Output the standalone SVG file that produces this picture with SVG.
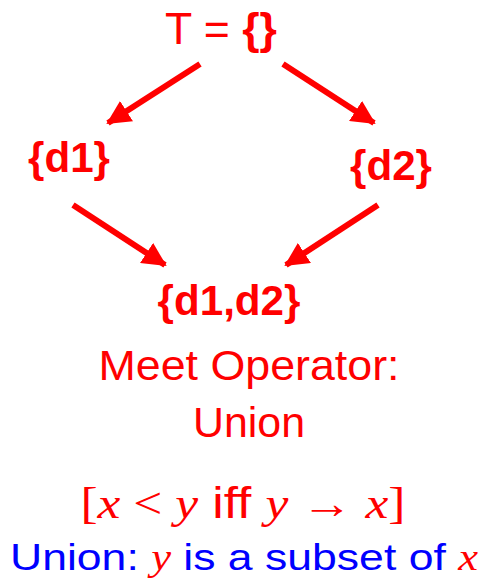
<svg xmlns="http://www.w3.org/2000/svg" width="494" height="587" viewBox="0 0 494 587">
<style>
.r{fill:#ff0000;font-family:"Liberation Sans",Arial,sans-serif}
.b{font-weight:bold}
.m{font-family:"Liberation Serif","DejaVu Serif",serif;font-style:italic}
.ms{font-family:"Liberation Serif","DejaVu Serif",serif}
.blue{fill:#0000ff;font-family:"Liberation Sans",Arial,sans-serif}
.edge{stroke:#ff0000;stroke-width:6;fill:none;marker-end:url(#ah)}
</style>
<defs>
<marker id="ah" markerUnits="userSpaceOnUse" markerWidth="26" markerHeight="24" refX="22" refY="12" orient="auto">
<path d="M0,0 L24,12 L0,24 Z" fill="#ff0000"/>
</marker>
</defs>
<rect width="494" height="587" fill="#ffffff"/>
<g id="connectors">
<line class="edge" x1="200" y1="64" x2="108" y2="123"/>
<line class="edge" x1="283" y1="64" x2="374" y2="123"/>
<line class="edge" x1="73" y1="205" x2="165" y2="265"/>
<line class="edge" x1="378" y1="205" x2="286" y2="265"/>
</g>
<g id="top">
<text class="r" x="221" y="44" text-anchor="middle" font-size="45" textLength="112" lengthAdjust="spacingAndGlyphs">T = <tspan class="b">{}</tspan></text>
</g>
<g id="d1">
<text class="r b" x="69" y="172" text-anchor="middle" font-size="42" textLength="82" lengthAdjust="spacingAndGlyphs">{d1}</text>
</g>
<g id="d2">
<text class="r b" x="391" y="180" text-anchor="middle" font-size="42" textLength="82" lengthAdjust="spacingAndGlyphs">{d2}</text>
</g>
<g id="d1d2">
<text class="r b" x="229" y="315" text-anchor="middle" font-size="42" textLength="143" lengthAdjust="spacingAndGlyphs">{d1,d2}</text>
</g>
<g id="label">
<text class="r" x="249" y="380" text-anchor="middle" font-size="43" textLength="301" lengthAdjust="spacingAndGlyphs">Meet Operator:</text>
<text class="r" x="249" y="437" text-anchor="middle" font-size="43" textLength="112" lengthAdjust="spacingAndGlyphs">Union</text>
<text class="r" x="243" y="518" text-anchor="middle" font-size="44" textLength="325" lengthAdjust="spacingAndGlyphs"><tspan class="ms">[</tspan><tspan class="m">x</tspan><tspan class="ms"> &lt; </tspan><tspan class="m">y</tspan> iff <tspan class="m">y</tspan><tspan class="ms"> → </tspan><tspan class="m">x</tspan><tspan class="ms">]</tspan></text>
<text class="blue" x="244" y="570" text-anchor="middle" font-size="37" textLength="468" lengthAdjust="spacingAndGlyphs">Union: <tspan class="m" fill="#ff0000">y</tspan> is a subset of <tspan class="m" fill="#ff0000">x</tspan></text>
</g>
</svg>
